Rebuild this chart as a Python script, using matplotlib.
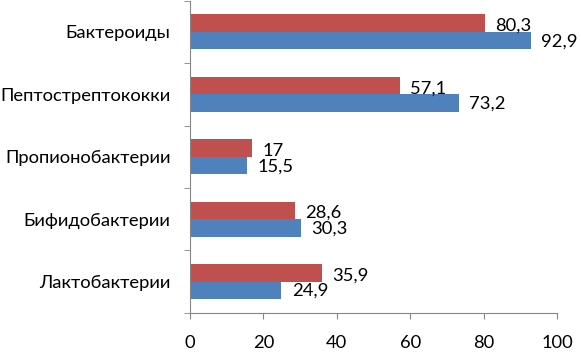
import numpy as np
import matplotlib.pyplot as plt

plt.rcParams['font.family'] = ['Lato', 'DejaVu Sans']

categories = ["Лактобактерии", "Бифидобактерии", "Пропионобактерии",
              "Пептострептококки", "Бактероиды"]
red_vals = [35.9, 28.6, 17, 57.1, 80.3]
blue_vals = [24.9, 30.3, 15.5, 73.2, 92.9]
red_labels = ["35,9", "28,6", "17", "57,1", "80,3"]
blue_labels = ["24,9", "30,3", "15,5", "73,2", "92,9"]

red = '#C0504D'
blue = '#4F81BD'

fig = plt.figure(figsize=(5.81, 3.54), dpi=100)
ax = fig.add_axes([0.327, 0.116, 0.632, 0.882])

y = np.arange(len(categories))
h = 0.28
ax.barh(y + h / 2, red_vals, height=h, color=red)
ax.barh(y - h / 2, blue_vals, height=h, color=blue)

# value labels to the right of each bar
for yi, v, t in zip(y, red_vals, red_labels):
    ax.text(v + 2.8, yi + h / 2 - 0.04, t, va='center', ha='left', fontsize=13.2)
for yi, v, t in zip(y, blue_vals, blue_labels):
    ax.text(v + 2.8, yi - h / 2 - 0.01, t, va='center', ha='left', fontsize=13.2)

ax.set_xlim(0, 100)
ax.set_ylim(-0.5, len(categories) - 0.5)
ax.set_xticks(np.arange(0, 101, 20))
ax.set_yticks(y)
ax.set_yticklabels(categories, fontsize=13.2)
ax.set_yticks(np.arange(-0.5, len(categories), 1), minor=True)
ax.tick_params(axis='y', which='major', length=0, pad=14)
ax.tick_params(axis='y', which='minor', length=4, color='#868686')
ax.tick_params(axis='x', length=4, color='#868686', labelsize=13.2, pad=12)

for s in ['top', 'right']:
    ax.spines[s].set_visible(False)
for s in ['left', 'bottom']:
    ax.spines[s].set_color('#868686')

fig.savefig('out.png', dpi=100)
